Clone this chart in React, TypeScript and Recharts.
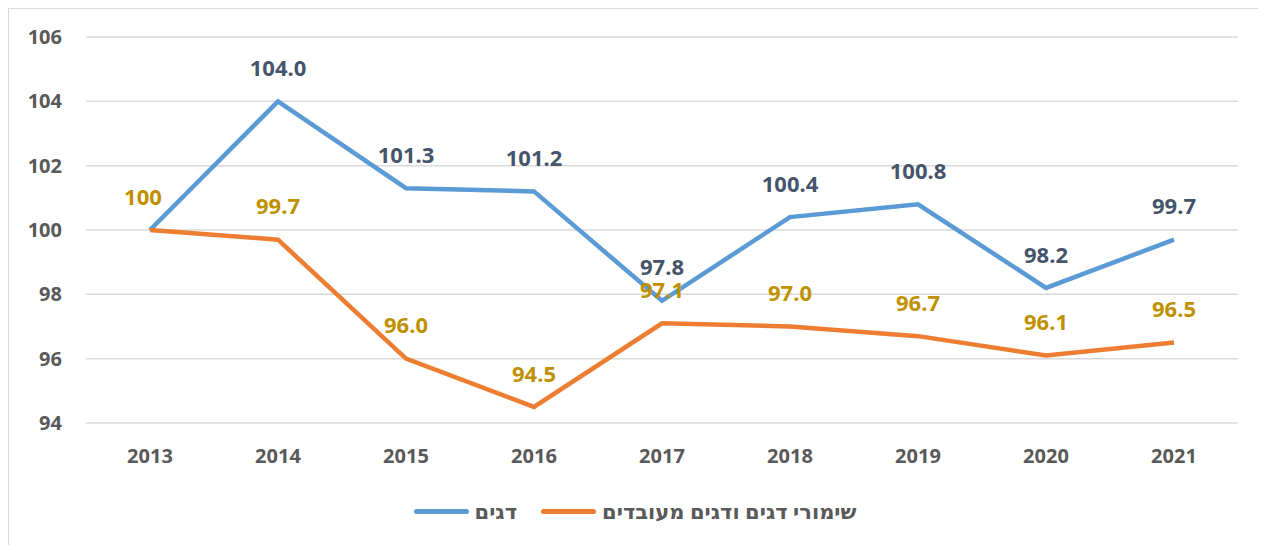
import React from 'react';
import { LineChart, Line, XAxis, YAxis, CartesianGrid } from 'recharts';

const years = ['2013', '2014', '2015', '2016', '2017', '2018', '2019', '2020', '2021'];
const fish = [100, 104.0, 101.3, 101.2, 97.8, 100.4, 100.8, 98.2, 99.7];
const processedFish = [100, 99.7, 96.0, 94.5, 97.1, 97.0, 96.7, 96.1, 96.5];
const yTicks = [94, 96, 98, 100, 102, 104, 106];

const FISH_NAME = 'דגים';
const PROCESSED_NAME = 'שימורי דגים ודגים מעובדים';

const data = years.map((year, i) => ({
  year,
  fish: fish[i],
  processed: processedFish[i],
}));

const FONT = '"Noto Sans", "DejaVu Sans", sans-serif';

const makeLabel = (color: string, kind: 'fish' | 'processed') => (props: any) => {
  const { x, y, value, index } = props;
  if (kind === 'fish' && index === 0) return null;
  const text = kind === 'processed' && index === 0 ? '100' : Number(value).toFixed(1);
  const dx = kind === 'processed' && index === 0 ? -7 : 0;
  return (
    <text
      x={x + dx}
      y={y - 33}
      dy="0.35em"
      textAnchor="middle"
      fill={color}
      fontFamily={FONT}
      fontWeight={700}
      fontSize={22}
    >
      {text}
    </text>
  );
};

const LegendBox = () => {
  const items = [
    { name: FISH_NAME, color: '#5B9BD5' },
    { name: PROCESSED_NAME, color: '#ED7D31' },
  ];
  return (
    <div
      style={{
        position: 'absolute',
        left: 0,
        right: 0,
        top: 488,
        display: 'flex',
        justifyContent: 'center',
        gap: 24,
        direction: 'ltr',
      }}
    >
      {items.map((it) => (
        <div key={it.name} style={{ display: 'flex', alignItems: 'center' }}>
          <span
            style={{
              display: 'inline-block',
              width: 55,
              height: 5,
              borderRadius: 3,
              background: it.color,
              marginRight: 6,
            }}
          />
          <span
            style={{
              fontFamily: FONT,
              fontWeight: 700,
              fontSize: 21,
              color: '#595959',
              direction: 'rtl',
            }}
          >
            {it.name}
          </span>
        </div>
      ))}
    </div>
  );
};

export default function App() {
  return (
    <div
      style={{
        position: 'relative',
        width: 1252,
        height: 545,
        border: '1px solid #D9D9D9',
        background: '#fff',
      }}
    >
      <LineChart
        width={1252}
        height={536}
        data={data}
        margin={{ top: 28, right: 23, left: 0, bottom: 72 }}
      >
        <CartesianGrid vertical={false} stroke="#D9D9D9" strokeWidth={1.5} />
        <XAxis
          dataKey="year"
          axisLine={false}
          tickLine={false}
          height={50}
          tickMargin={20}
          padding={{ left: 64, right: 64 }}
          tick={{ fill: '#595959', fontFamily: FONT, fontWeight: 700, fontSize: 20 }}
        />
        <YAxis
          domain={[94, 106]}
          ticks={yTicks}
          width={77}
          axisLine={false}
          tickLine={false}
          tickMargin={18}
          tick={{ fill: '#595959', fontFamily: FONT, fontWeight: 700, fontSize: 20 }}
        />
        <Line
          type="linear"
          dataKey="fish"
          name={FISH_NAME}
          stroke="#5B9BD5"
          strokeWidth={4.5}
          dot={false}
          isAnimationActive={false}
          label={makeLabel('#44546A', 'fish')}
        />
        <Line
          type="linear"
          dataKey="processed"
          name={PROCESSED_NAME}
          stroke="#ED7D31"
          strokeWidth={4.5}
          dot={false}
          isAnimationActive={false}
          label={makeLabel('#BF9000', 'processed')}
        />
      </LineChart>
      <LegendBox />
    </div>
  );
}
